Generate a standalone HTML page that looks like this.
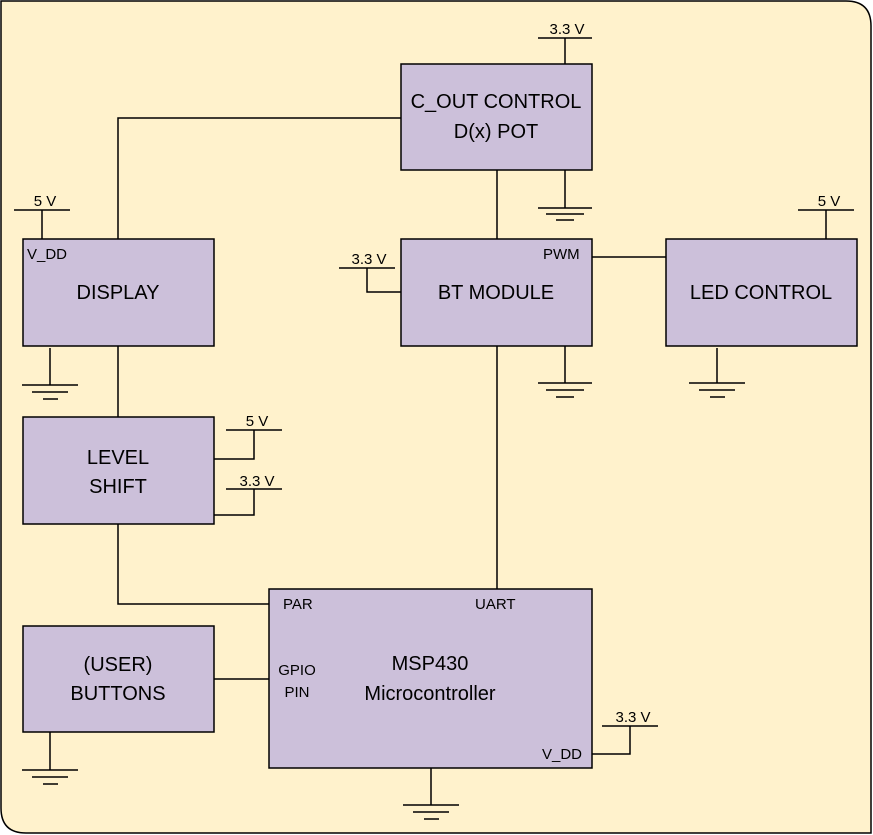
<!DOCTYPE html>
<html><head><meta charset="utf-8"><style>
html,body{margin:0;padding:0;background:#fff;}
svg{display:block;}
text{font-family:"Liberation Sans",sans-serif;fill:#000;}
</style></head><body>
<svg width="873" height="835" viewBox="0 0 873 835" xmlns="http://www.w3.org/2000/svg">
<path d="M1,1 H846 Q871,1 871,26 V833 H26 Q1,833 1,808 Z" fill="#fff2cc" stroke="#000" stroke-width="1.5"/>
<g fill="#ccc0da" stroke="#000" stroke-width="1.5">
<rect x="401" y="64" width="191" height="106"/>
<rect x="23" y="239" width="191" height="107"/>
<rect x="401" y="239" width="191" height="107"/>
<rect x="666" y="239" width="191" height="107"/>
<rect x="23" y="417" width="191" height="107"/>
<rect x="23" y="626" width="191" height="106"/>
<rect x="269" y="589" width="323" height="179"/>
</g>
<g stroke="#000" stroke-width="1.5" fill="none">
<path d="M538,38 H592 M565,38 V64"/>
<path d="M565,170 V208 M538,208 H592 M546,214 H584 M556,220 H574"/>
<path d="M118,239 V118 H401"/>
<path d="M497,170 V239"/>
<path d="M14,210 H70 M42,210 V239"/>
<path d="M50,348 V385 M22,385 H78 M32,392 H68 M43,399 H58"/>
<path d="M118,346 V417"/>
<path d="M226,430 H282 M254,430 V459 H214"/>
<path d="M226,489 H282 M254,489 V515 H214"/>
<path d="M118,524 V604 H269"/>
<path d="M339,268 H395 M367,268 V292 H401"/>
<path d="M565,346 V383 M538,383 H592 M546,390 H584 M556,397 H574"/>
<path d="M592,257 H666"/>
<path d="M798,210 H854 M826,210 V239"/>
<path d="M717,348 V383 M689,383 H745 M699,390 H735 M710,397 H725"/>
<path d="M497,346 V589"/>
<path d="M431,768 V805 M403,805 H459 M413,812 H449 M424,819 H439"/>
<path d="M602,726 H658 M630,726 V754 H592"/>
<path d="M214,679 H269"/>
<path d="M50,732 V770 M22,770 H78 M32,777 H68 M43,784 H58"/>
</g>
<g font-size="15">
<text x="567" y="34" text-anchor="middle">3.3 V</text>
<text x="45" y="206" text-anchor="middle">5 V</text>
<text x="829" y="206" text-anchor="middle">5 V</text>
<text x="257" y="426" text-anchor="middle">5 V</text>
<text x="257" y="486" text-anchor="middle">3.3 V</text>
<text x="369" y="264" text-anchor="middle">3.3 V</text>
<text x="633" y="722" text-anchor="middle">3.3 V</text>
<text x="27" y="259">V_DD</text>
<text x="543" y="259">PWM</text>
<text x="283" y="609">PAR</text>
<text x="475" y="609">UART</text>
<text x="297" y="675" text-anchor="middle">GPIO</text>
<text x="297" y="697" text-anchor="middle">PIN</text>
<text x="542" y="759">V_DD</text>
</g>
<g font-size="20" text-anchor="middle">
<text x="496" y="108">C_OUT CONTROL</text>
<text x="496" y="138">D(x) POT</text>
<text x="118" y="299">DISPLAY</text>
<text x="496" y="299">BT MODULE</text>
<text x="761" y="299">LED CONTROL</text>
<text x="118" y="464">LEVEL</text>
<text x="118" y="493">SHIFT</text>
<text x="118" y="671">(USER)</text>
<text x="118" y="700">BUTTONS</text>
<text x="430" y="670">MSP430</text>
<text x="430" y="700">Microcontroller</text>
</g>
</svg>
</body></html>
